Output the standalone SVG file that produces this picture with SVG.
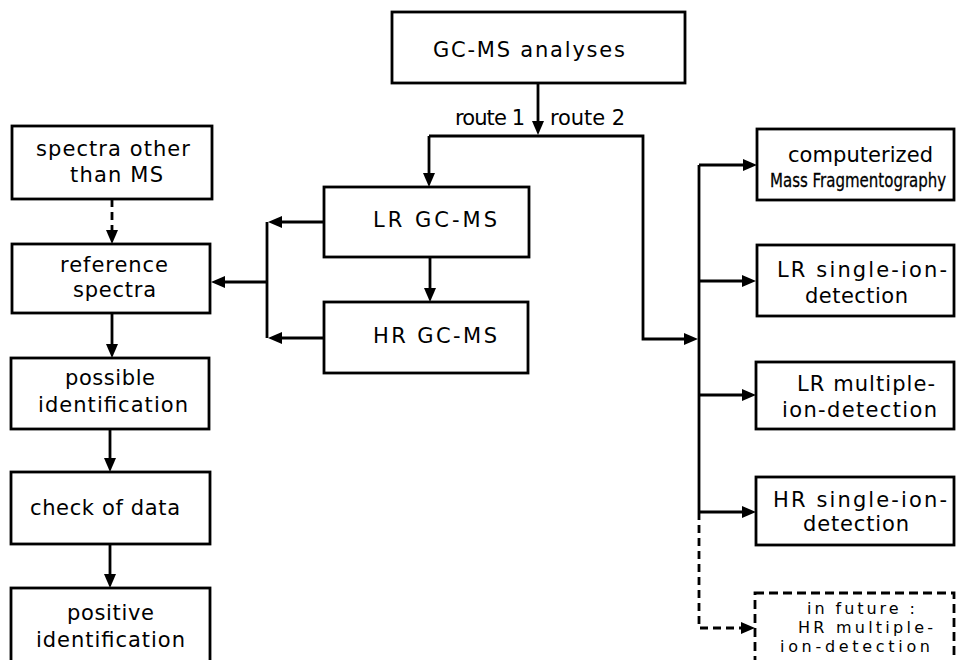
<svg xmlns="http://www.w3.org/2000/svg" width="956" height="660" viewBox="0 0 956 660">
<style>
.box{fill:#fff;stroke:#000;stroke-width:2.8}
.dbox{fill:#fff;stroke:#000;stroke-width:2.8;stroke-dasharray:9 5}
.ln{fill:none;stroke:#000;stroke-width:2.8}
.dl{fill:none;stroke:#000;stroke-width:2.8;stroke-dasharray:8 5}
text{font-family:"DejaVu Sans","Liberation Sans",sans-serif;font-size:21px;fill:#000}
.sm{font-size:16px}
.cond{font-size:19.5px;stroke:#000;stroke-width:0.3}
</style>
<defs>
<marker id="ah" viewBox="0 0 14 12" refX="5" refY="6" markerWidth="14" markerHeight="12" markerUnits="userSpaceOnUse" orient="auto"><path d="M0,0 L14,6 L0,12 z" fill="#000"/></marker>
</defs>
<rect width="956" height="660" fill="#fff"/>
<g id="connectors">
<path class="ln" d="M538,83 V126" marker-end="url(#ah)"/>
<path class="ln" d="M429,136 H643 V339 H689" marker-end="url(#ah)"/>
<path class="ln" d="M429,136 V178" marker-end="url(#ah)"/>
<path class="ln" d="M430,257 V293" marker-end="url(#ah)"/>
<path class="ln" d="M324,222 H277" marker-end="url(#ah)"/>
<path class="ln" d="M324,338 H277" marker-end="url(#ah)"/>
<path class="ln" d="M267,222 V338"/>
<path class="ln" d="M267,282 H220" marker-end="url(#ah)"/>
<path class="dl" d="M112,199 V235" marker-end="url(#ah)"/>
<path class="ln" d="M112,313 V349" marker-end="url(#ah)"/>
<path class="ln" d="M110,429 V463" marker-end="url(#ah)"/>
<path class="ln" d="M110,544 V579" marker-end="url(#ah)"/>
<path class="ln" d="M699,165 V512"/>
<path class="ln" d="M699,165 H748" marker-end="url(#ah)"/>
<path class="ln" d="M699,281 H747" marker-end="url(#ah)"/>
<path class="ln" d="M699,395 H747" marker-end="url(#ah)"/>
<path class="ln" d="M699,512 H747" marker-end="url(#ah)"/>
<path class="dl" d="M699,512 V628 H746" marker-end="url(#ah)"/>
</g>
<g id="route-labels">
<text x="455" y="125" textLength="70" lengthAdjust="spacing">route 1</text>
<text x="550" y="125" textLength="75" lengthAdjust="spacing">route 2</text>
</g>
<g id="gcms">
<rect class="box" x="392" y="12" width="293" height="71"/>
<text x="433" y="57" textLength="192" lengthAdjust="spacing">GC-MS  analyses</text>
</g>
<g id="lrgcms">
<rect class="box" x="324" y="187" width="205" height="70"/>
<text x="373" y="227" textLength="124" lengthAdjust="spacing">LR  GC-MS</text>
</g>
<g id="hrgcms">
<rect class="box" x="324" y="302" width="204" height="71"/>
<text x="373" y="343" textLength="124" lengthAdjust="spacing">HR  GC-MS</text>
</g>
<g id="spectra-other">
<rect class="box" x="12" y="126" width="200" height="73"/>
<text x="36" y="156" textLength="154" lengthAdjust="spacing">spectra other</text>
<text x="70" y="182" textLength="93" lengthAdjust="spacing">than MS</text>
</g>
<g id="reference">
<rect class="box" x="12" y="244" width="198" height="69"/>
<text x="60" y="272" textLength="108" lengthAdjust="spacing">reference</text>
<text x="73" y="297" textLength="83" lengthAdjust="spacing">spectra</text>
</g>
<g id="possible">
<rect class="box" x="11" y="358" width="198" height="71"/>
<text x="65" y="385" textLength="90" lengthAdjust="spacing">possible</text>
<text x="38" y="412" textLength="150" lengthAdjust="spacing">identification</text>
</g>
<g id="check">
<rect class="box" x="11" y="472" width="199" height="72"/>
<text x="30" y="515" textLength="150" lengthAdjust="spacing">check of data</text>
</g>
<g id="positive">
<rect class="box" x="11" y="588" width="199" height="80"/>
<text x="67" y="620" textLength="87" lengthAdjust="spacing">positive</text>
<text x="36" y="647" textLength="149" lengthAdjust="spacing">identification</text>
</g>
<g id="computerized">
<rect class="box" x="757" y="129" width="197" height="71"/>
<text x="788" y="162" textLength="145" lengthAdjust="spacing">computerized</text>
<text class="cond" transform="translate(770,187) scale(0.77,1)">Mass Fragmentography</text>
</g>
<g id="lrsingle">
<rect class="box" x="757" y="245" width="197" height="71"/>
<text x="777" y="277" textLength="170" lengthAdjust="spacing">LR  single-ion-</text>
<text x="805" y="303" textLength="103" lengthAdjust="spacing">detection</text>
</g>
<g id="lrmultiple">
<rect class="box" x="756" y="362" width="198" height="67"/>
<text x="797" y="391" textLength="138" lengthAdjust="spacing">LR multiple-</text>
<text x="782" y="417" textLength="155" lengthAdjust="spacing">ion-detection</text>
</g>
<g id="hrsingle">
<rect class="box" x="756" y="477" width="198" height="68"/>
<text x="773" y="507" textLength="174" lengthAdjust="spacing">HR  single-ion-</text>
<text x="803" y="531" textLength="106" lengthAdjust="spacing">detection</text>
</g>
<g id="future">
<rect class="dbox" x="755" y="593" width="199" height="75"/>
<text class="sm" x="807" y="614" textLength="108" lengthAdjust="spacing">in future :</text>
<text class="sm" x="798" y="633" textLength="135" lengthAdjust="spacing">HR multiple-</text>
<text class="sm" x="780" y="652" textLength="150" lengthAdjust="spacing">ion-detection</text>
</g>
</svg>
